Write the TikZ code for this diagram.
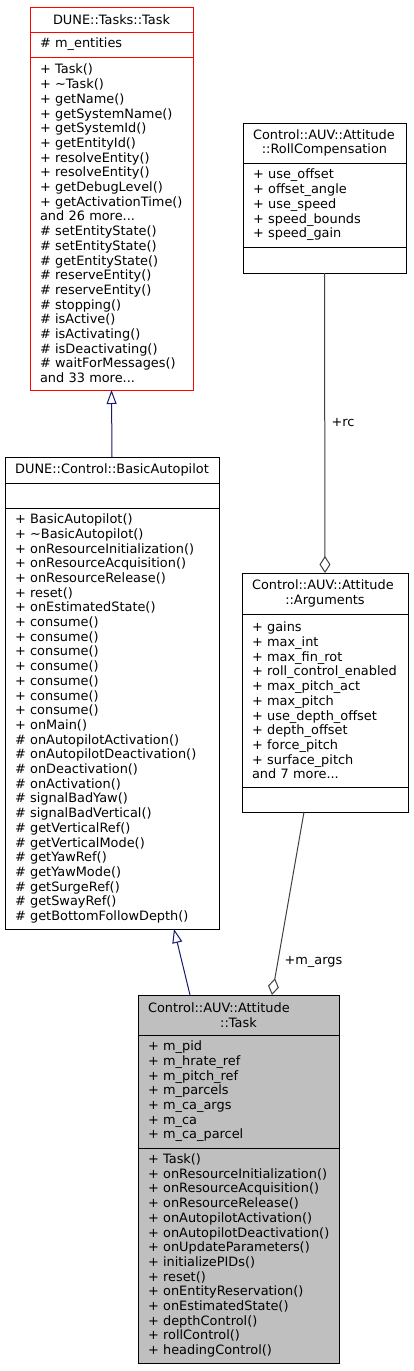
\documentclass[tikz,border=0pt]{standalone}
\usepackage{fontspec}
\setmainfont{DejaVu Sans}
\usepackage{tikz}
\usetikzlibrary{arrows.meta,shapes,positioning}
\definecolor{edgeblue}{HTML}{191970}
\definecolor{edgegray}{HTML}{404040}
\definecolor{taskgray}{HTML}{BFBFBF}
\hyphenpenalty=10000
\exhyphenpenalty=10000
\hbadness=10000
\hfuzz=50pt

\begin{document}
\begin{tikzpicture}[x=1pt,y=-1pt]
                    \tikzstyle{every node}+=[font=\fontsize{12.9}{14.7}\selectfont]
                    \tikzstyle{classpart}=[draw=black, line width=1pt, inner xsep=10pt, inner ysep=0pt, outer sep=0pt, align=left]
                    \tikzstyle{classtitle}=[classpart, align=center]
                    \tikzstyle{inherit}=[edgeblue, line width=1pt, -{Triangle[open,length=14pt,width=10pt]}]
                    \tikzstyle{aggregate}=[edgegray, line width=1pt, -{Diamond[open,length=17pt,width=11pt]}]
                    \useasboundingbox (0,0) rectangle (413,1371);
                    \node [classtitle, draw=red, text width=143pt, minimum height=25pt, anchor=north west] (dunetitle) at (30,7) {DUNE::Tasks::Task};
                    \node [classpart, draw=red, text width=143pt, minimum height=25pt, below=0pt of dunetitle] (duneattr) {\# m\_entities};
                    \node [classpart, draw=red, text width=143pt, minimum height=333pt, below=0pt of duneattr] (duneops) {+ Task()\\+ \textasciitilde Task()\\+ getName()\\+ getSystemName()\\+ getSystemId()\\+ getEntityId()\\+ resolveEntity()\\+ resolveEntity()\\+ getDebugLevel()\\+ getActivationTime()\\and 26 more...\\\# setEntityState()\\\# setEntityState()\\\# getEntityState()\\\# reserveEntity()\\\# reserveEntity()\\\# stopping()\\\# isActive()\\\# isActivating()\\\# isDeactivating()\\\# waitForMessages()\\and 33 more...};
                    \node [classtitle, text width=194pt, minimum height=26pt, anchor=north west] (pilottitle) at (5,457) {DUNE::Control::BasicAutopilot};
                    \node [classpart, text width=194pt, minimum height=25pt, below=0pt of pilottitle] (pilotattr) {};
                    \node [classpart, text width=194pt, minimum height=421pt, below=0pt of pilotattr] (pilotops) {+ BasicAutopilot()\\+ \textasciitilde BasicAutopilot()\\+ onResourceInitialization()\\+ onResourceAcquisition()\\+ onResourceRelease()\\+ reset()\\+ onEstimatedState()\\+ consume()\\+ consume()\\+ consume()\\+ consume()\\+ consume()\\+ consume()\\+ consume()\\+ onMain()\\\# onAutopilotActivation()\\\# onAutopilotDeactivation()\\\# onDeactivation()\\\# onActivation()\\\# signalBadYaw()\\\# signalBadVertical()\\\# getVerticalRef()\\\# getVerticalMode()\\\# getYawRef()\\\# getYawMode()\\\# getSurgeRef()\\\# getSwayRef()\\\# getBottomFollowDepth()};
                    \node [classtitle, text width=143pt, minimum height=40pt, anchor=north west] (rolltitle) at (243,123) {\makebox[\linewidth][l]{Control::AUV::Attitude}\\::RollCompensation};
                    \node [classpart, text width=143pt, minimum height=84pt, below=0pt of rolltitle] (rollattr) {+ use\_offset\\+ offset\_angle\\+ use\_speed\\+ speed\_bounds\\+ speed\_gain};
                    \node [classpart, text width=143pt, minimum height=26pt, below=0pt of rollattr] (rollops) {};
                    \node [classtitle, text width=146pt, minimum height=41pt, anchor=north west] (argstitle) at (242,573) {\makebox[\linewidth][l]{Control::AUV::Attitude}\\::Arguments};
                    \node [classpart, text width=146pt, minimum height=173pt, below=0pt of argstitle] (argsattr) {+ gains\\+ max\_int\\+ max\_fin\_rot\\+ roll\_control\_enabled\\+ max\_pitch\_act\\+ max\_pitch\\+ use\_depth\_offset\\+ depth\_offset\\+ force\_pitch\\+ surface\_pitch\\and 7 more...};
                    \node [classpart, text width=146pt, minimum height=25pt, below=0pt of argsattr] (argsops) {};
                    \node [classtitle, fill=taskgray, text width=181pt, minimum height=40pt, anchor=north west] (atttitle) at (138,995) {\makebox[\linewidth][l]{Control::AUV::Attitude}\\::Task};
                    \node [classpart, fill=taskgray, text width=181pt, minimum height=113pt, below=0pt of atttitle] (attattr) {+ m\_pid\\+ m\_hrate\_ref\\+ m\_pitch\_ref\\+ m\_parcels\\+ m\_ca\_args\\+ m\_ca\\+ m\_ca\_parcel};
                    \node [classpart, fill=taskgray, text width=181pt, minimum height=215pt, below=0pt of attattr] (attops) {+ Task()\\+ onResourceInitialization()\\+ onResourceAcquisition()\\+ onResourceRelease()\\+ onAutopilotActivation()\\+~onAutopilotDeactivation()\\+ onUpdateParameters()\\+ initializePIDs()\\+ reset()\\+ onEntityReservation()\\+ onEstimatedState()\\+ depthControl()\\+ rollControl()\\+ headingControl()};
                    \draw [inherit] (pilottitle.north) -- (duneops.south);
                    \draw [inherit] ([xshift=-48.5pt]atttitle.north) -- ([xshift=62pt]pilotops.south);
                    \draw [aggregate] (rollops.south) -- (argstitle.north) node [pos=0.5, anchor=west, xshift=3pt, text=black] (rclabel) {+rc};
                    \draw [aggregate] ([xshift=-21pt]argsops.south) -- ([xshift=33.5pt]atttitle.north) node [pos=0.82, anchor=west, xshift=3pt, text=black] (argslabel) {+m\_args};
\end{tikzpicture}
\end{document}
